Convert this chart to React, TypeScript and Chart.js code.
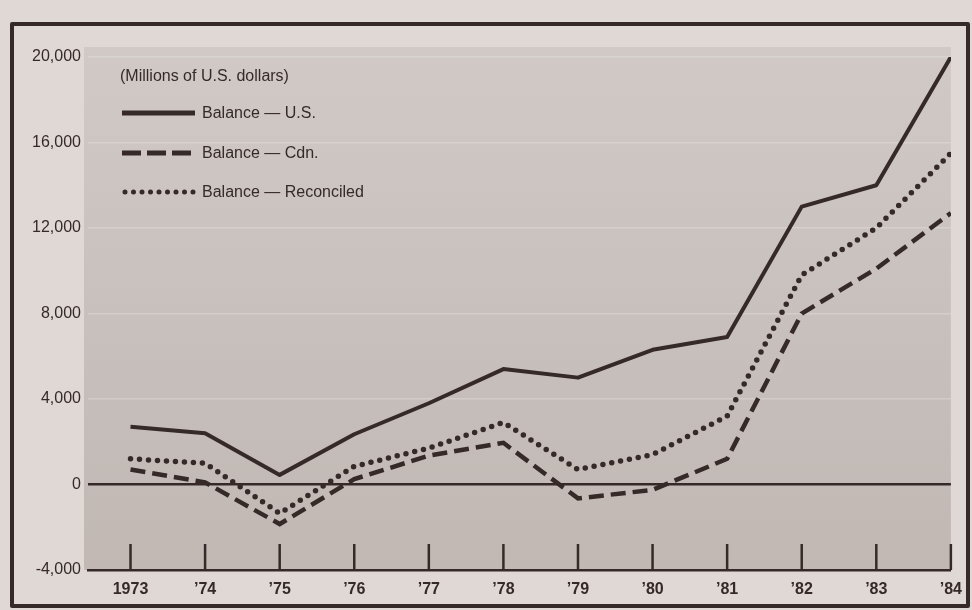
import React, { useEffect, useRef } from "react";
import { Chart, registerables } from "chart.js";

Chart.register(...registerables);

// ---- data ----
const yearLabels = ["1973", "’74", "’75", "’76", "’77", "’78", "’79", "’80", "’81", "’82", "’83", "’84"];
const usBalance = [2700, 2400, 450, 2350, 3800, 5400, 5000, 6300, 6900, 13000, 14000, 20000];
const cdnBalance = [700, 100, -1850, 250, 1350, 1950, -650, -250, 1200, 8000, 10100, 12700];
const reconciledBalance = [1200, 1000, -1350, 850, 1700, 2900, 700, 1400, 3200, 9800, 12000, 15500];
const yTickValues = [-4000, 0, 4000, 8000, 12000, 16000, 20000];
const seriesLabels = ["Balance — U.S.", "Balance — Cdn.", "Balance — Reconciled"];
const unitsNote = "(Millions of U.S. dollars)";

const INK = "#362a28";
const PAPER = "#e0d8d4";
const PLOT_TOP = "#d0c9c6";
const PLOT_BOTTOM = "#c1b8b4";
const FONT = "'Liberation Sans', Arial, Helvetica, sans-serif";

const legendDashes = [[], [19, 6], [0, 8.5]];

const toPoints = (arr: number[]) => arr.map((y, i) => ({ x: i, y }));

export default function App() {
  const ref = useRef<HTMLCanvasElement>(null);

  useEffect(() => {
    const bgPlugin = {
      id: "plotBg",
      beforeDraw(chart: any) {
        const { ctx, chartArea } = chart;
        ctx.save();
        const g = ctx.createLinearGradient(0, chartArea.top - 10, 0, chartArea.bottom);
        g.addColorStop(0, PLOT_TOP);
        g.addColorStop(1, PLOT_BOTTOM);
        ctx.fillStyle = g;
        ctx.fillRect(chartArea.left - 4, chartArea.top - 10, chartArea.right - chartArea.left + 4, chartArea.bottom - chartArea.top + 10);
        ctx.restore();
      },
    };

    const tickPlugin = {
      id: "innerTicks",
      beforeDatasetsDraw(chart: any) {
        const { ctx, chartArea } = chart;
        const xs = chart.scales.x;
        ctx.save();
        ctx.strokeStyle = INK;
        ctx.lineWidth = 2.5;
        yearLabels.forEach((_, i) => {
          const x = xs.getPixelForValue(i);
          ctx.beginPath();
          ctx.moveTo(x, chartArea.bottom);
          ctx.lineTo(x, chartArea.bottom - 26);
          ctx.stroke();
        });
        ctx.restore();
      },
    };

    const legendPlugin = {
      id: "inlineLegend",
      afterDraw(chart: any) {
        const { ctx } = chart;
        ctx.save();
        ctx.fillStyle = INK;
        ctx.font = `16px ${FONT}`;
        ctx.textBaseline = "middle";
        ctx.textAlign = "left";
        ctx.fillText(unitsNote, 120, 77);
        const ys = [113, 153, 192];
        chart.data.datasets.forEach((ds: any, i: number) => {
          const y = ys[i];
          ctx.beginPath();
          ctx.strokeStyle = ds.borderColor;
          ctx.lineWidth = i === 2 ? 5 : 5;
          ctx.lineCap = i === 2 ? "round" : "butt";
          ctx.setLineDash(legendDashes[i]);
          ctx.moveTo(i === 2 ? 125 : 122, y);
          ctx.lineTo(195, y);
          ctx.stroke();
          ctx.setLineDash([]);
          ctx.fillText(ds.label, 202, y + 1);
        });
        ctx.restore();
      },
    };

    const chart = new Chart(ref.current as HTMLCanvasElement, {
      type: "line",
      data: {
        datasets: [
          {
            label: seriesLabels[0],
            data: toPoints(usBalance),
            borderColor: INK,
            borderWidth: 4,
            pointRadius: 0,
            tension: 0,
            borderJoinStyle: "round",
          },
          {
            label: seriesLabels[1],
            data: toPoints(cdnBalance),
            borderColor: INK,
            borderWidth: 4.5,
            borderDash: [15, 7],
            pointRadius: 0,
            tension: 0,
          },
          {
            label: seriesLabels[2],
            data: toPoints(reconciledBalance),
            borderColor: INK,
            borderWidth: 5.5,
            borderDash: [0, 9],
            borderCapStyle: "round",
            pointRadius: 0,
            tension: 0,
          },
        ],
      },
      options: {
        responsive: false,
        animation: false,
        devicePixelRatio: 1,
        layout: { padding: { top: 57, right: 19, left: 0, bottom: 0 } },
        plugins: { legend: { display: false }, tooltip: { enabled: false } },
        scales: {
          x: {
            type: "linear",
            min: -0.57,
            max: 11,
            afterBuildTicks: (s: any) => {
              s.ticks = yearLabels.map((_, i) => ({ value: i }));
            },
            afterFit: (s: any) => {
              s.height = 40;
            },
            grid: { color: "transparent", drawTicks: false },
            border: { display: true, color: INK, width: 2.5 },
            ticks: {
              callback: (v: any) => yearLabels[v],
              font: { family: FONT, size: 16, weight: "bold" },
              color: INK,
              padding: 10,
              maxRotation: 0,
              autoSkip: false,
            },
          },
          y: {
            type: "linear",
            min: -4000,
            max: 20000,
            afterBuildTicks: (s: any) => {
              s.ticks = yTickValues.map((v) => ({ value: v }));
            },
            afterFit: (s: any) => {
              s.width = 88;
            },
            grid: {
              drawTicks: false,
              color: (c: any) =>
                c.tick && c.tick.value === 0
                  ? INK
                  : c.tick && c.tick.value === -4000
                  ? "transparent"
                  : "rgba(255,255,255,0.22)",
              lineWidth: (c: any) => (c.tick && c.tick.value === 0 ? 2.5 : 1.5),
            },
            border: { display: false },
            ticks: {
              callback: (v: any) => Number(v).toLocaleString("en-US"),
              font: { family: FONT, size: 16 },
              color: INK,
              padding: 7,
            },
          },
        },
      },
      plugins: [bgPlugin, tickPlugin, legendPlugin],
    } as any);

    return () => chart.destroy();
  }, []);

  return (
    <div style={{ position: "fixed", left: 0, top: 0, width: 972, height: 610, background: PAPER, overflow: "hidden" }}>
      <div
        style={{
          position: "absolute",
          left: 10,
          top: 22,
          width: 960,
          height: 586,
          boxSizing: "border-box",
          border: `4px solid ${INK}`,
          borderRadius: 2,
        }}
      />
      <canvas ref={ref} width={972} height={610} style={{ position: "absolute", left: 0, top: 0, width: 972, height: 610 }} />
    </div>
  );
}
